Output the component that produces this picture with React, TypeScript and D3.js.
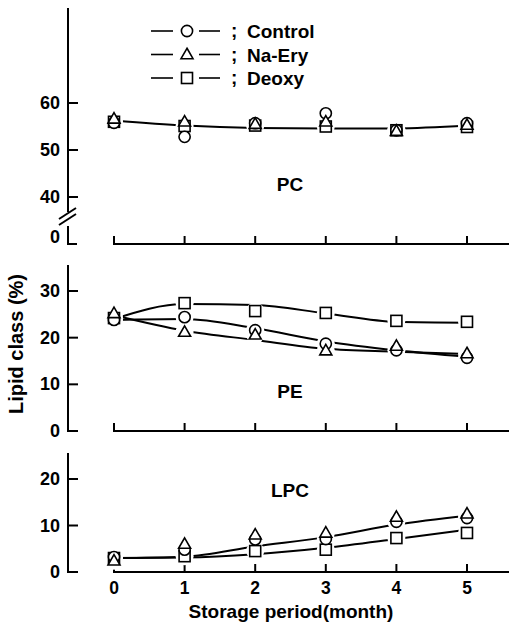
import { useEffect, useRef } from "react";
import * as d3 from "d3";

// storage period (month)
const months = [0, 1, 2, 3, 4, 5];
const seriesNames = ["Control", "Na-Ery", "Deoxy"];
const seriesShapes = ["circle", "triangle", "square"];

// PC (%)
const pcControl = [55.8, 52.8, 55.7, 57.8, 54.2, 55.7];
const pcNaEry = [56.6, 56.0, 55.5, 56.0, 54.0, 55.3];
const pcDeoxy = [56.0, 55.1, 55.2, 55.0, 54.2, 54.9];
const pcLine = [56.3, 55.2, 54.7, 54.6, 54.6, 55.2];

// PE (%)
const peControl = [23.8, 24.4, 21.6, 18.7, 17.3, 15.7];
const peNaEry = [25.2, 21.2, 20.6, 17.2, 18.2, 16.6];
const peDeoxy = [24.2, 27.4, 25.7, 25.3, 23.6, 23.4];
// fitted curves as drawn
const peControlLine = [23.8, 24.0, 22.0, 19.2, 17.3, 15.9];
const peNaEryLine = [24.8, 21.5, 19.5, 17.6, 17.0, 16.5];
const peDeoxyLine = [24.0, 27.2, 27.0, 25.2, 23.4, 23.2];

// LPC (%)
const lpcControl = [3.2, 4.8, 7.0, 7.1, 10.8, 11.6];
const lpcNaEry = [2.4, 6.0, 8.0, 8.4, 11.8, 12.5];
const lpcDeoxy = [3.0, 3.4, 4.5, 4.8, 7.3, 8.4];
const lpcUpper = [3.0, 3.3, 5.5, 7.5, 10.2, 12.1];
const lpcLower = [3.0, 3.1, 3.8, 5.2, 7.1, 9.1];

const pcTicks = [40, 50, 60];
const peTicks = [0, 10, 20, 30];
const lpcTicks = [0, 10, 20];

const FONT = "'Liberation Sans', Arial, Helvetica, sans-serif";

const App = () => {
    const svgRef = useRef<SVGSVGElement>(null);

    useEffect(() => {
        const svg = d3.select(svgRef.current);
        svg.selectAll("*").remove();

        const x = d3.scaleLinear().domain([0, 5]).range([114, 467]);
        const axisX = 68;
        const axisRight = 509;

        const panels = [
            {
                name: "PC",
                y: d3.scaleLinear().domain([40, 60]).range([197, 103]),
                top: 8,
                base: 244,
                ticks: pcTicks,
                series: [pcControl, pcNaEry, pcDeoxy],
                lines: [pcLine],
                label: [290, 191],
                broken: true,
            },
            {
                name: "PE",
                y: d3.scaleLinear().domain([0, 30]).range([431, 291]),
                top: 265,
                base: 431,
                ticks: peTicks,
                series: [peControl, peNaEry, peDeoxy],
                lines: [peControlLine, peNaEryLine, peDeoxyLine],
                label: [290, 398],
                broken: false,
            },
            {
                name: "LPC",
                y: d3.scaleLinear().domain([0, 20]).range([572, 479]),
                top: 453,
                base: 572,
                ticks: lpcTicks,
                series: [lpcControl, lpcNaEry, lpcDeoxy],
                lines: [lpcUpper, lpcLower],
                label: [290, 497],
                broken: false,
            },
        ];

        const drawMarker = (g, shape, cx, cy, halo) => {
            if (halo) {
                g.append("circle").attr("cx", cx).attr("cy", cy).attr("r", 9).attr("fill", "#fff");
                return;
            }
            if (shape === "circle") {
                g.append("circle")
                    .attr("cx", cx)
                    .attr("cy", cy)
                    .attr("r", 5.6)
                    .attr("fill", "#fff")
                    .attr("stroke", "#000")
                    .attr("stroke-width", 1.6);
            } else if (shape === "triangle") {
                const s = 12;
                const h = s * 0.87;
                g.append("path")
                    .attr("d", `M${cx},${cy - h * 0.6}L${cx + s / 2},${cy + h * 0.4}L${cx - s / 2},${cy + h * 0.4}Z`)
                    .attr("fill", "#fff")
                    .attr("stroke", "#000")
                    .attr("stroke-width", 1.6);
            } else {
                g.append("rect")
                    .attr("x", cx - 5.5)
                    .attr("y", cy - 5.5)
                    .attr("width", 11)
                    .attr("height", 11)
                    .attr("fill", "#fff")
                    .attr("stroke", "#000")
                    .attr("stroke-width", 1.6);
            }
        };

        const label = (sel, size) =>
            sel.style("font-family", FONT).style("font-weight", "bold").style("font-size", `${size}px`);

        panels.forEach((p) => {
            const g = svg.append("g");
            const line = d3
                .line<number>()
                .x((d, i) => x(months[i]))
                .y((d) => p.y(d))
                .curve(d3.curveMonotoneX);

            // y axis
            if (p.broken) {
                g.append("line").attr("x1", axisX).attr("x2", axisX).attr("y1", p.top).attr("y2", 212)
                    .attr("stroke", "#000").attr("stroke-width", 2);
                g.append("line").attr("x1", axisX).attr("x2", axisX).attr("y1", 226).attr("y2", p.base)
                    .attr("stroke", "#000").attr("stroke-width", 2);
                [0, 6].forEach((off) => {
                    g.append("line")
                        .attr("x1", 59).attr("y1", 219 + off)
                        .attr("x2", 76).attr("y2", 208 + off)
                        .attr("stroke", "#000").attr("stroke-width", 2);
                });
                label(
                    g.append("text").attr("x", 60).attr("y", p.base - 1).attr("text-anchor", "end"),
                    18
                ).text("0");
            } else {
                g.append("line").attr("x1", axisX).attr("x2", axisX).attr("y1", p.top).attr("y2", p.base)
                    .attr("stroke", "#000").attr("stroke-width", 2);
            }
            g.append("line").attr("x1", axisX - 1).attr("x2", axisX + 9).attr("y1", p.base).attr("y2", p.base)
                .attr("stroke", "#000").attr("stroke-width", 2);

            p.ticks.forEach((t) => {
                g.append("line").attr("x1", axisX).attr("x2", axisX + 10).attr("y1", p.y(t)).attr("y2", p.y(t))
                    .attr("stroke", "#000").attr("stroke-width", 2);
                label(
                    g.append("text").attr("x", 60).attr("y", p.y(t) + 6).attr("text-anchor", "end"),
                    18
                ).text(t);
            });

            // x axis (offset from y axis)
            g.append("line").attr("x1", x(0) - 1).attr("x2", axisRight).attr("y1", p.base).attr("y2", p.base)
                .attr("stroke", "#000").attr("stroke-width", 2);
            months.forEach((m) => {
                g.append("line").attr("x1", x(m)).attr("x2", x(m)).attr("y1", p.base).attr("y2", p.base - 8)
                    .attr("stroke", "#000").attr("stroke-width", 2);
            });

            // curves
            p.lines.forEach((vals) => {
                g.append("path")
                    .attr("d", line(vals))
                    .attr("fill", "none")
                    .attr("stroke", "#000")
                    .attr("stroke-width", 2);
            });

            // white gaps around markers, then markers
            p.series.forEach((vals, si) => {
                vals.forEach((v, i) => drawMarker(g, seriesShapes[si], x(months[i]), p.y(v), true));
            });
            [2, 0, 1].forEach((si) => {
                p.series[si].forEach((v, i) => drawMarker(g, seriesShapes[si], x(months[i]), p.y(v), false));
            });

            label(
                g.append("text").attr("x", p.label[0]).attr("y", p.label[1]).attr("text-anchor", "middle"),
                19
            ).text(p.name);
        });

        // x tick labels
        months.forEach((m) => {
            label(svg.append("text").attr("x", x(m)).attr("y", 594).attr("text-anchor", "middle"), 17.5).text(m);
        });

        label(
            svg.append("text").attr("x", 291).attr("y", 618).attr("text-anchor", "middle"),
            19
        ).text("Storage period(month)");

        label(
            svg.append("text").attr("transform", "translate(23,344) rotate(-90)").attr("text-anchor", "middle"),
            20
        ).text("Lipid class (%)");

        // legend
        const legend = svg.append("g");
        seriesNames.forEach((name, i) => {
            const ly = 31 + i * 23.5;
            legend.append("line").attr("x1", 151).attr("x2", 173).attr("y1", ly).attr("y2", ly)
                .attr("stroke", "#000").attr("stroke-width", 1.6);
            legend.append("line").attr("x1", 199).attr("x2", 220).attr("y1", ly).attr("y2", ly)
                .attr("stroke", "#000").attr("stroke-width", 1.6);
            drawMarker(legend, seriesShapes[i], 187, ly, false);
            label(legend.append("text").attr("x", 231).attr("y", ly + 6), 19).text(";");
            label(legend.append("text").attr("x", 247).attr("y", ly + 7), 19).text(name);
        });
    }, []);

    return (
        <svg
            ref={svgRef}
            width={511}
            height={627}
            style={{ position: "absolute", left: 0, top: 0, background: "#fff" }}
        ></svg>
    );
};

export default App;
